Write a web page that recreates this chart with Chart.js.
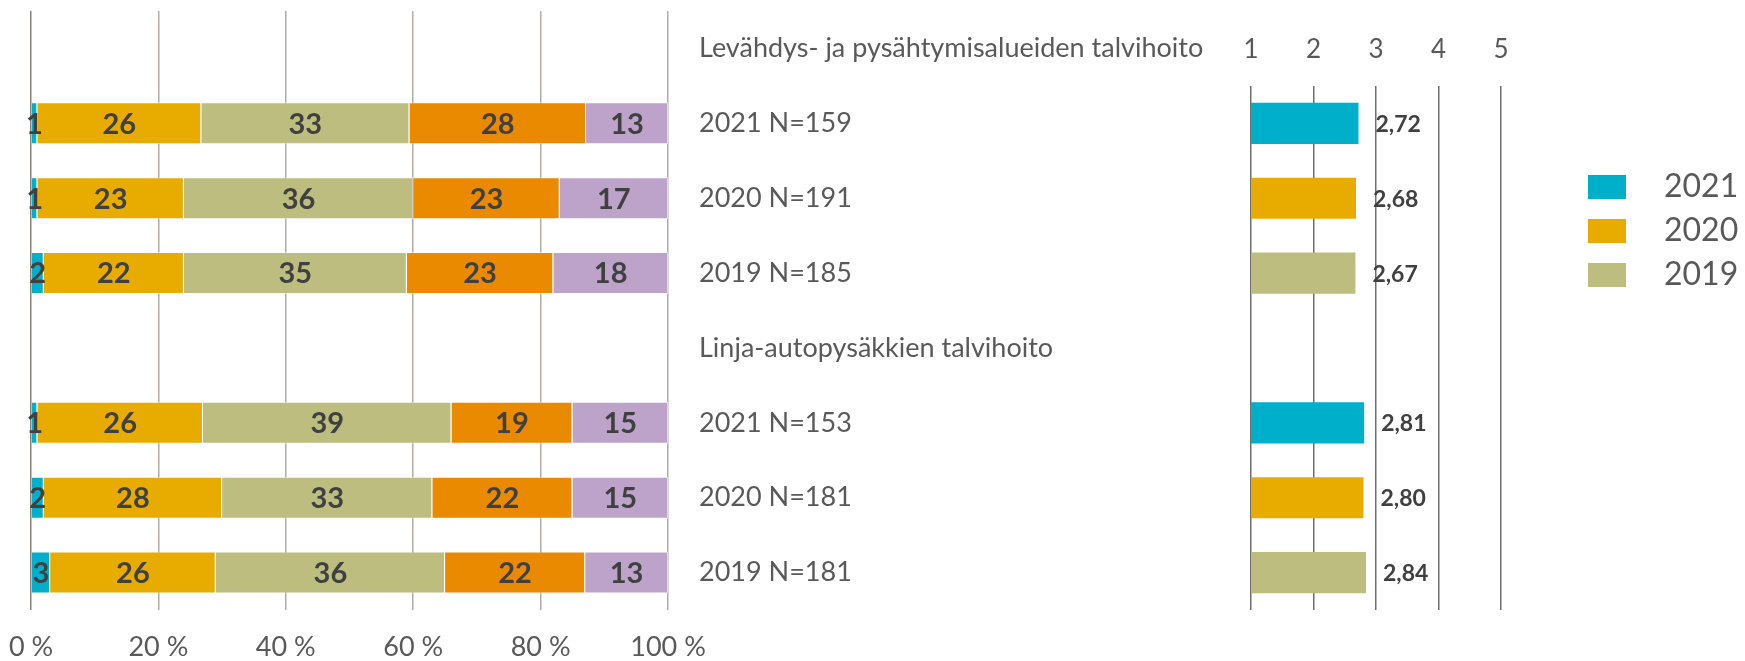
<!DOCTYPE html>
<html>
<head>
<meta charset="utf-8">
<script src="https://cdn.jsdelivr.net/npm/chart.js@4.4.1/dist/chart.umd.min.js"></script>
<style>
  html, body { margin: 0; padding: 0; background: #ffffff; }
  #wrap { position: relative; width: 1745px; height: 661px; }
  #wrap canvas { position: absolute; left: 0; top: 0; }
</style>
</head>
<body>
<div id="wrap">
  <canvas id="shareChart" width="1745" height="661"></canvas>
  <canvas id="meanChart" width="1745" height="661"></canvas>
</div>
<script>
// rows top to bottom, the two headings have no bars
var rowLabels = ["Levähdys- ja pysähtymisalueiden talvihoito", "2021 N=159", "2020 N=191", "2019 N=185",
  "Linja-autopysäkkien talvihoito", "2021 N=153", "2020 N=181", "2019 N=181"];
var rowYears = [null, "2021", "2020", "2019", null, "2021", "2020", "2019"];

// answer shares (%) for answers 1..5
var answer1 = [null, 1, 1, 2, null, 1, 2, 3];
var answer2 = [null, 26, 23, 22, null, 26, 28, 26];
var answer3 = [null, 33, 36, 35, null, 39, 33, 36];
var answer4 = [null, 28, 23, 23, null, 19, 22, 22];
var answer5 = [null, 13, 17, 18, null, 15, 15, 13];

// mean score on scale 1-5
var meanScores = [null, 2.72, 2.68, 2.67, null, 2.81, 2.80, 2.84];

var shareTicks = [0, 20, 40, 60, 80, 100];
var meanTicks = [1, 2, 3, 4, 5];
var years = ["2021", "2020", "2019"];

var answerColors = ["#00B0CA", "#E8AC00", "#BDBD80", "#E98A00", "#BDA3C9"];
var yearColors = { "2021": "#00B0CA", "2020": "#E8AC00", "2019": "#BDBD80" };

var labelGrey = '#595959';
var valueGrey = '#404040';

Chart.defaults.font.family = 'Lato';

function draw() {
  var answers = [answer1, answer2, answer3, answer4, answer5];

  // bars are drawn as share of the row total, labels show the rounded numbers
  var rowSums = rowLabels.map(function (r, i) {
    var s = 0;
    answers.forEach(function (a) { s += a[i] || 0; });
    return s;
  });

  var shareSets = answers.map(function (a, k) {
    return {
      label: String(k + 1),
      data: a.map(function (v, i) { return v == null ? null : v / rowSums[i] * 100; }),
      shown: a,
      backgroundColor: answerColors[k],
      borderColor: 'rgba(255,255,255,0.6)',
      borderWidth: 1,
      barPercentage: 0.56,
      categoryPercentage: 1
    };
  });

  var shareLabels = {
    id: 'shareLabels',
    afterDatasetsDraw: function (chart) {
      var ctx = chart.ctx;
      ctx.save();
      ctx.font = 'bold 29px Lato';
      ctx.fillStyle = valueGrey;
      ctx.textAlign = 'center';
      ctx.textBaseline = 'middle';
      chart.data.datasets.forEach(function (ds, di) {
        chart.getDatasetMeta(di).data.forEach(function (el, i) {
          if (ds.shown[i] == null) return;
          ctx.fillText(ds.shown[i], (el.x + el.base) / 2, el.y + 1);
        });
      });
      ctx.restore();
    }
  };

  new Chart(document.getElementById('shareChart'), {
    type: 'bar',
    data: { labels: rowLabels, datasets: shareSets },
    options: {
      responsive: false,
      animation: false,
      indexAxis: 'y',
      layout: { padding: { left: 31, top: 11, right: 0, bottom: 0 } },
      plugins: { legend: { display: false }, tooltip: { enabled: false } },
      scales: {
        x: {
          stacked: true, min: 0, max: 100, position: 'bottom',
          afterBuildTicks: function (s) { s.ticks = shareTicks.map(function (v) { return { value: v }; }); },
          ticks: {
            callback: function (v) { return v + ' %'; },
            color: labelGrey, font: { size: 27 }, padding: 21, maxRotation: 0, autoSkip: false
          },
          grid: {
            color: function (c) { return c.tick && c.tick.value === 0 ? '#85807b' : '#b1aba6'; },
            lineWidth: 1.5, drawTicks: false
          },
          border: { display: false },
          afterFit: function (s) { s.height = 51; s.paddingLeft = 0; s.paddingRight = 0; }
        },
        y: {
          stacked: true, position: 'right',
          ticks: { color: labelGrey, font: { size: 27 }, padding: 31, crossAlign: 'near' },
          grid: { display: false, drawTicks: false },
          border: { display: false },
          afterFit: function (s) { s.width = 1077; s.paddingTop = 0; s.paddingBottom = 0; }
        }
      }
    },
    plugins: [shareLabels]
  });

  // right side: mean scores, one colour per year
  var meanRows = rowLabels.slice(1);
  var meanData = meanScores.slice(1);
  var meanColors = rowYears.slice(1).map(function (y) { return y ? yearColors[y] : 'transparent'; });

  var meanLabels = {
    id: 'meanLabels',
    afterDatasetsDraw: function (chart) {
      var ctx = chart.ctx;
      ctx.save();
      ctx.font = 'bold 23px Lato';
      ctx.fillStyle = valueGrey;
      ctx.textAlign = 'left';
      ctx.textBaseline = 'middle';
      chart.getDatasetMeta(0).data.forEach(function (el, i) {
        if (meanData[i] == null) return;
        ctx.fillText(meanData[i].toFixed(2).replace('.', ','), el.x + 17, el.y + 1);
      });
      ctx.restore();
    }
  };

  var yearLegend = {
    id: 'yearLegend',
    afterDraw: function (chart) {
      var ctx = chart.ctx;
      var lx = chart.chartArea.right + 87;
      ctx.save();
      ctx.font = '32px Lato';
      ctx.textAlign = 'left';
      ctx.textBaseline = 'middle';
      years.forEach(function (y, i) {
        var cy = 187 + i * 44;
        ctx.fillStyle = yearColors[y];
        ctx.fillRect(lx, cy - 12, 38, 24);
        ctx.fillStyle = labelGrey;
        ctx.fillText(y, lx + 76, cy);
      });
      ctx.restore();
    }
  };

  new Chart(document.getElementById('meanChart'), {
    type: 'bar',
    data: {
      labels: meanRows,
      datasets: [{
        label: 'Keskiarvo',
        data: meanData,
        backgroundColor: meanColors,
        borderWidth: 0,
        barPercentage: 0.55,
        categoryPercentage: 1
      }]
    },
    options: {
      responsive: false,
      animation: false,
      indexAxis: 'y',
      layout: { padding: { left: 1251, right: 244, top: 0, bottom: 51 } },
      plugins: { legend: { display: false }, tooltip: { enabled: false } },
      scales: {
        x: {
          min: 1, max: 5, position: 'top',
          afterBuildTicks: function (s) { s.ticks = meanTicks.map(function (v) { return { value: v }; }); },
          ticks: { color: labelGrey, font: { size: 26 }, padding: 21, maxRotation: 0, autoSkip: false },
          grid: { color: '#6e6e6e', lineWidth: 1.5, drawTicks: false },
          border: { display: false },
          afterFit: function (s) { s.height = 86; s.paddingLeft = 0; s.paddingRight = 0; }
        },
        y: {
          display: false
        }
      }
    },
    plugins: [meanLabels, yearLegend]
  });
}

if (document.fonts && document.fonts.load) {
  Promise.all([document.fonts.load('24px Lato'), document.fonts.load('bold 24px Lato')]).then(draw, draw);
} else {
  draw();
}
</script>
</body>
</html>
